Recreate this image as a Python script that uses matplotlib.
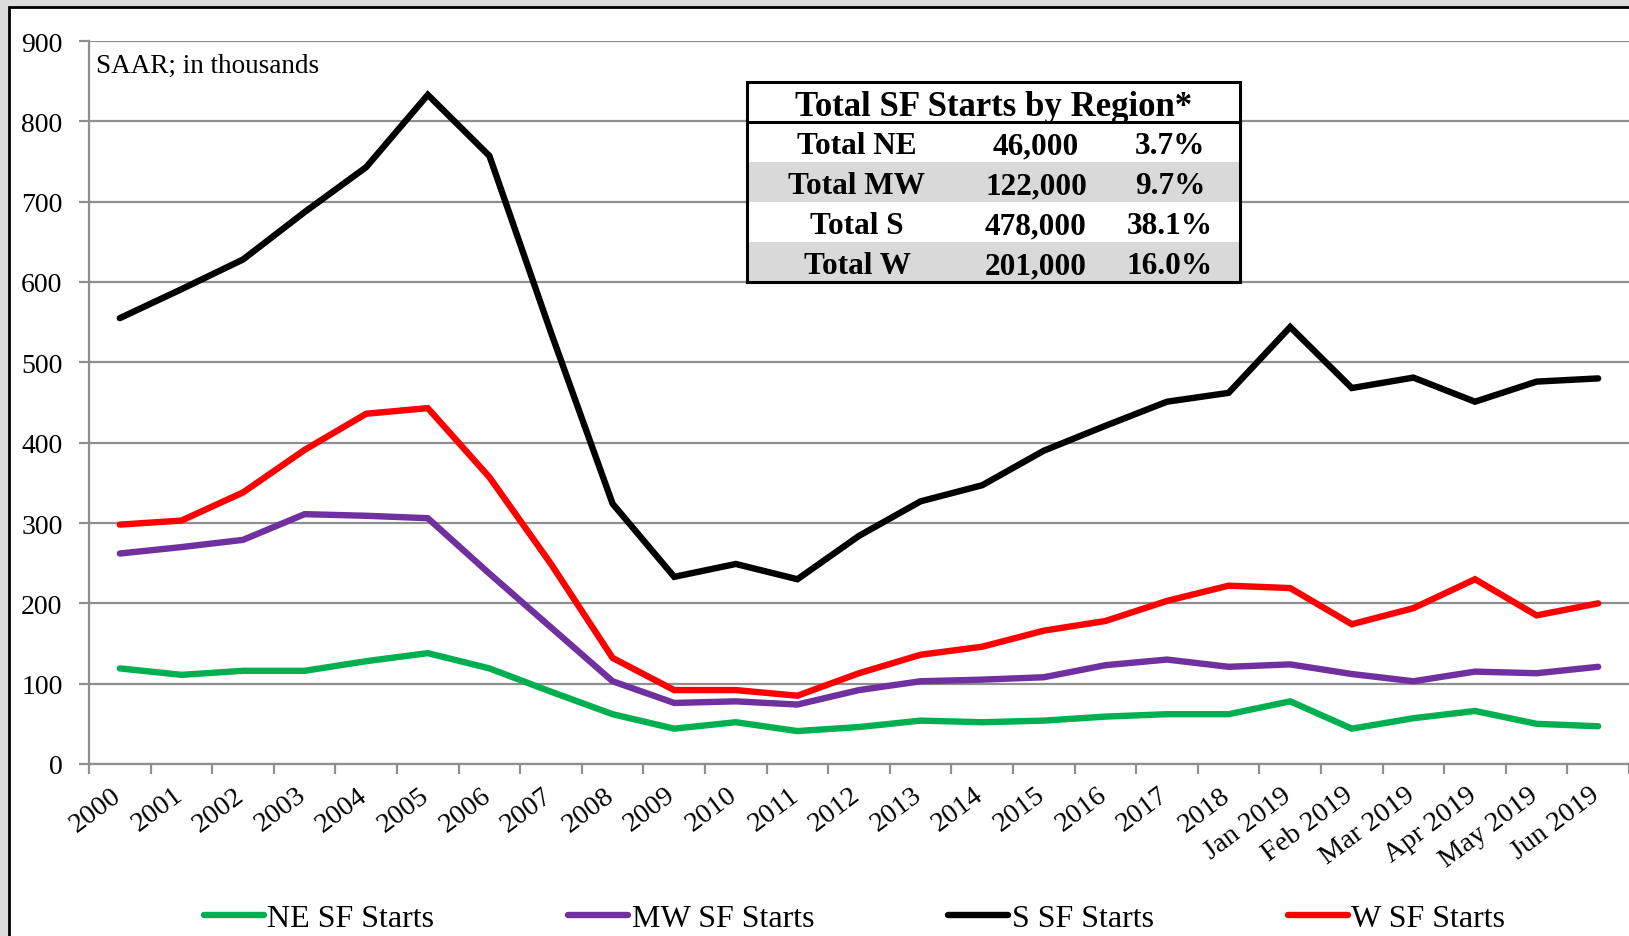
import matplotlib
matplotlib.use("Agg")
import matplotlib.pyplot as plt
from matplotlib.patches import Rectangle
from matplotlib.lines import Line2D
from matplotlib.transforms import ScaledTranslation
import numpy as np

plt.rcParams['font.family'] = ['Liberation Serif', 'DejaVu Serif']

categories = ['2000', '2001', '2002', '2003', '2004', '2005', '2006', '2007', '2008',
              '2009', '2010', '2011', '2012', '2013', '2014', '2015', '2016', '2017',
              '2018', 'Jan 2019', 'Feb 2019', 'Mar 2019', 'Apr 2019', 'May 2019', 'Jun 2019']
ne_starts = [119, 111, 116, 116, 128, 138, 119, 90, 62, 44, 52, 41, 46, 54, 52, 54, 59, 62,
             62, 78, 44, 57, 66, 50, 47]
mw_starts = [262, 270, 279, 311, 309, 306, 237, 170, 103, 76, 78, 74, 92, 103, 105, 108, 123,
             130, 121, 124, 112, 103, 115, 113, 121]
s_starts = [555, 591, 628, 687, 743, 833, 757, 537, 324, 233, 249, 230, 284, 327, 347, 390,
            421, 451, 462, 544, 468, 481, 451, 476, 480]
w_starts = [298, 303, 338, 391, 436, 443, 357, 249, 132, 92, 92, 85, 113, 136, 146, 166, 178,
            203, 222, 219, 174, 194, 230, 185, 200]
series_names = ['NE SF Starts', 'MW SF Starts', 'S SF Starts', 'W SF Starts']
series_colors = ['#00B050', '#7030A0', '#000000', '#FF0000']

table_title = 'Total SF Starts by Region*'
table_regions = ['Total NE', 'Total MW', 'Total S', 'Total W']
table_totals = ['46,000', '122,000', '478,000', '201,000']
table_shares = ['3.7%', '9.7%', '38.1%', '16.0%']

W, H = 1629, 937
fig = plt.figure(figsize=(W / 100, H / 100), dpi=100)
fig.patch.set_facecolor('#dcdcdc')

def fx(x):
    return x / W

def fy(y):
    return 1 - y / H

# outer white chart frame
fig.add_artist(Rectangle((fx(9), fy(960)), fx(1700), fy(8) - fy(960),
                         transform=fig.transFigure, facecolor='white',
                         edgecolor='black', linewidth=2, zorder=0))

ax = fig.add_axes([fx(89), fy(765), 1 - fx(89), fy(42) - fy(765)])
ax.set_facecolor('none')

x = np.arange(len(categories))
for vals, name, col in zip([ne_starts, mw_starts, s_starts, w_starts], series_names, series_colors):
    ax.plot(x, vals, color=col, linewidth=4.6, label=name, solid_joinstyle='miter',
            solid_capstyle='round', zorder=3)

ax.set_xlim(-0.5, len(categories) - 0.5)
ax.set_ylim(0, 900)
ax.set_yticks(np.arange(0, 901, 100))
ax.yaxis.grid(True, color='#8f8f8f', linewidth=1.6)
ax.set_axisbelow(True)
for sp in ['top', 'right']:
    ax.spines[sp].set_visible(False)
for sp in ['left', 'bottom']:
    ax.spines[sp].set_color('#8f8f8f')
    ax.spines[sp].set_linewidth(1.6)

ax.set_xticks(np.arange(-0.5, len(categories), 1.0))
ax.set_xticklabels([])
ax.set_xticks(x, minor=True)
ax.set_xticklabels(categories, minor=True, rotation=37, ha='right', va='top',
                   rotation_mode='anchor', fontsize=20.5)
ax.tick_params(axis='x', which='major', length=7, width=1.6, color='#8f8f8f')
ax.tick_params(axis='x', which='minor', length=0, pad=13)
ax.tick_params(axis='y', length=7, width=1.6, color='#8f8f8f', labelsize=20, pad=12)
shift = ScaledTranslation(-9 / 100, 0, fig.dpi_scale_trans)
for lbl in ax.get_xticklabels(minor=True):
    lbl.set_transform(lbl.get_transform() + shift)

fig.text(fx(96), fy(73), 'SAAR; in thousands', fontsize=19.5, ha='left', va='baseline')

# summary table
tl, tr, tt, tb = 747, 1240, 83, 283
row_edges = [83, 123, 163, 203, 243, 283]
for i in (1, 3):
    y0, y1 = row_edges[i + 1], row_edges[i + 2]
    fig.add_artist(Rectangle((fx(tl), fy(y1)), fx(tr) - fx(tl), fy(y0) - fy(y1),
                             transform=fig.transFigure, facecolor='#d9d9d9',
                             edgecolor='none', zorder=5))
fig.add_artist(Rectangle((fx(tl), fy(tb)), fx(tr) - fx(tl), fy(tt) - fy(tb),
                         transform=fig.transFigure, facecolor='white',
                         edgecolor='none', zorder=4))
fig.add_artist(Rectangle((fx(tl), fy(tb)), fx(tr) - fx(tl), fy(tt) - fy(tb),
                         transform=fig.transFigure, facecolor='none',
                         edgecolor='black', linewidth=2.2, zorder=7))
fig.add_artist(Line2D([fx(tl), fx(tr)], [fy(row_edges[1]), fy(row_edges[1])],
                      transform=fig.transFigure, color='black', linewidth=2.2, zorder=7))

fig.text(fx((tl + tr) / 2), fy((row_edges[0] + row_edges[1]) / 2 + 4), table_title,
         fontsize=25, fontweight='bold', ha='center', va='center', zorder=8)
col_x = [857, 1036, 1170]
for i in range(4):
    yc = fy((row_edges[i + 1] + row_edges[i + 2]) / 2 + 4)
    for cx, txt in zip(col_x, [table_regions[i], table_totals[i], table_shares[i]]):
        fig.text(fx(cx), yc, txt, fontsize=22.5, fontweight='bold', ha='center',
                 va='center', zorder=8)

handles, labels = ax.get_legend_handles_labels()
leg = fig.legend(handles, labels, loc='center left', bbox_to_anchor=(fx(204), fy(919)),
                 ncol=4, frameon=False, fontsize=23, handlelength=1.88,
                 handletextpad=0.1, columnspacing=4.2, borderaxespad=0, borderpad=0)
for lh in leg.get_lines():
    lh.set_linewidth(4.6)
    lh.set_solid_capstyle('round')

fig.savefig('out.png', dpi=100, facecolor=fig.get_facecolor())
